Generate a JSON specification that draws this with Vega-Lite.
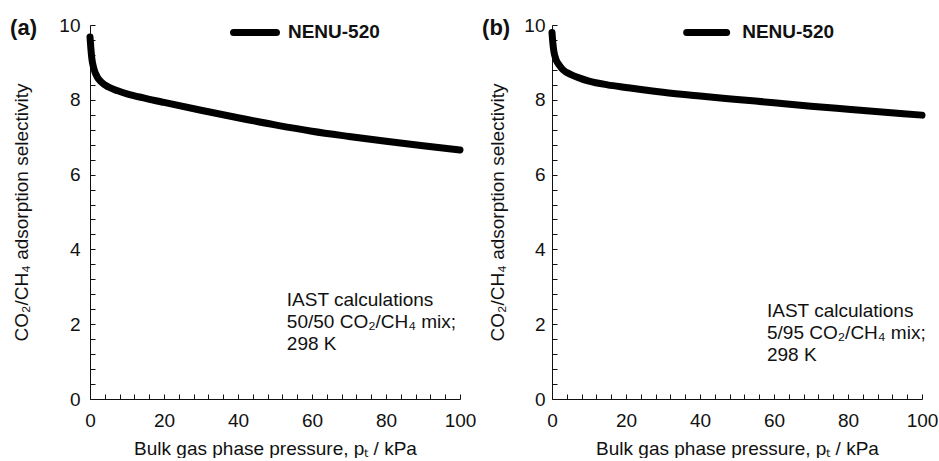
{
  "$schema": "https://vega.github.io/schema/vega-lite/v6.json",
  "padding": {"left": 10, "top": 16, "right": 0, "bottom": 0},
  "bounds": "flush",
  "spacing": 92,
  "config": {
    "view": {"stroke": null},
    "font": "Liberation Sans",
    "axis": {
      "grid": false,
      "domainColor": "#111",
      "tickColor": "#111",
      "labelColor": "#111",
      "titleColor": "#111",
      "labelFont": "Liberation Sans",
      "titleFont": "Liberation Sans",
      "labelFontSize": 19,
      "titleFontSize": 19,
      "titleFontWeight": "normal",
      "tickSize": -5,
      "tickCount": 30,
      "labelFlush": false,
      "labelOverlap": false
    },
    "text": {"font": "Liberation Sans", "color": "#111"}
  },
  "datasets": {
    "a": [
      {"p": 0, "s": 9.68}, {"p": 0.25, "s": 9.35}, {"p": 0.5, "s": 9.1}, {"p": 1, "s": 8.85},
      {"p": 2, "s": 8.6}, {"p": 3, "s": 8.48}, {"p": 5, "s": 8.34}, {"p": 7.5, "s": 8.24},
      {"p": 10, "s": 8.16}, {"p": 15, "s": 8.04}, {"p": 20, "s": 7.93}, {"p": 30, "s": 7.72},
      {"p": 40, "s": 7.52}, {"p": 50, "s": 7.33}, {"p": 60, "s": 7.16}, {"p": 70, "s": 7.02},
      {"p": 80, "s": 6.89}, {"p": 90, "s": 6.77}, {"p": 100, "s": 6.66}
    ],
    "b": [
      {"p": 0, "s": 9.8}, {"p": 0.25, "s": 9.5}, {"p": 0.5, "s": 9.3}, {"p": 1, "s": 9.1},
      {"p": 2, "s": 8.92}, {"p": 3, "s": 8.8}, {"p": 5, "s": 8.68}, {"p": 7.5, "s": 8.58},
      {"p": 10, "s": 8.5}, {"p": 15, "s": 8.4}, {"p": 20, "s": 8.33}, {"p": 30, "s": 8.2},
      {"p": 40, "s": 8.1}, {"p": 50, "s": 8.01}, {"p": 60, "s": 7.92}, {"p": 70, "s": 7.83},
      {"p": 80, "s": 7.75}, {"p": 90, "s": 7.67}, {"p": 100, "s": 7.59}
    ],
    "series": [{"series": "NENU-520"}],
    "tagA": [{"tag": "(a)"}],
    "tagB": [{"tag": "(b)"}],
    "noteA": [{"lines": ["IAST calculations", "50/50 CO₂/CH₄ mix;", "298 K"]}],
    "noteB": [{"lines": ["IAST calculations", "5/95 CO₂/CH₄ mix;", "298 K"]}]
  },
  "hconcat": [
    {
      "width": 370,
      "height": 374,
      "layer": [
        {
          "data": {"name": "a"},
          "mark": {"type": "line", "color": "black", "strokeWidth": 7, "strokeCap": "round", "strokeJoin": "round", "interpolate": "monotone"},
          "encoding": {
            "x": {
              "field": "p", "type": "quantitative",
              "scale": {"domain": [0, 100], "nice": false},
              "axis": {
                "values": [0, 4, 8, 12, 16, 20, 24, 28, 32, 36, 40, 44, 48, 52, 56, 60, 64, 68, 72, 76, 80, 84, 88, 92, 96, 100],
                "labelExpr": "datum.value % 20 === 0 ? format(datum.value, 'd') : ''",
                "title": "Bulk gas phase pressure, pₜ / kPa",
                "labelPadding": 17,
                "titlePadding": 9
              }
            },
            "y": {
              "field": "s", "type": "quantitative",
              "scale": {"domain": [0, 10], "nice": false},
              "axis": {
                "values": [0, 0.4, 0.8, 1.2, 1.6, 2, 2.4, 2.8, 3.2, 3.6, 4, 4.4, 4.8, 5.2, 5.6, 6, 6.4, 6.8, 7.2, 7.6, 8, 8.4, 8.8, 9.2, 9.6, 10],
                "labelExpr": "datum.value % 2 === 0 ? format(datum.value, 'd') : ''",
                "title": "CO₂/CH₄ adsorption selectivity",
                "labelPadding": 15,
                "titlePadding": 27
              }
            }
          }
        },
        {
          "data": {"name": "tagA"},
          "mark": {"type": "text", "align": "left", "baseline": "alphabetic", "fontSize": 22, "fontWeight": "bold"},
          "encoding": {
            "x": {"datum": -21.6, "type": "quantitative"},
            "y": {"datum": 9.73, "type": "quantitative"},
            "text": {"field": "tag", "type": "nominal"}
          }
        },
        {
          "data": {"name": "series"},
          "mark": {"type": "rule", "color": "black", "strokeWidth": 7, "strokeCap": "round"},
          "encoding": {
            "x": {"datum": 38.8, "type": "quantitative"},
            "x2": {"datum": 50.4},
            "y": {"datum": 9.8, "type": "quantitative"}
          }
        },
        {
          "data": {"name": "series"},
          "mark": {"type": "text", "align": "left", "baseline": "middle", "fontSize": 19, "fontWeight": "bold"},
          "encoding": {
            "x": {"datum": 53.5, "type": "quantitative"},
            "y": {"datum": 9.8, "type": "quantitative"},
            "text": {"field": "series", "type": "nominal"}
          }
        },
        {
          "data": {"name": "noteA"},
          "mark": {"type": "text", "align": "left", "baseline": "alphabetic", "fontSize": 19, "lineHeight": 22},
          "encoding": {
            "x": {"datum": 53.2, "type": "quantitative"},
            "y": {"datum": 2.49, "type": "quantitative"},
            "text": {"field": "lines", "type": "nominal"}
          }
        }
      ]
    },
    {
      "width": 370,
      "height": 374,
      "layer": [
        {
          "data": {"name": "b"},
          "mark": {"type": "line", "color": "black", "strokeWidth": 7, "strokeCap": "round", "strokeJoin": "round", "interpolate": "monotone"},
          "encoding": {
            "x": {
              "field": "p", "type": "quantitative",
              "scale": {"domain": [0, 100], "nice": false},
              "axis": {
                "values": [0, 4, 8, 12, 16, 20, 24, 28, 32, 36, 40, 44, 48, 52, 56, 60, 64, 68, 72, 76, 80, 84, 88, 92, 96, 100],
                "labelExpr": "datum.value % 20 === 0 ? format(datum.value, 'd') : ''",
                "title": "Bulk gas phase pressure, pₜ / kPa",
                "labelPadding": 17,
                "titlePadding": 9
              }
            },
            "y": {
              "field": "s", "type": "quantitative",
              "scale": {"domain": [0, 10], "nice": false},
              "axis": {
                "values": [0, 0.4, 0.8, 1.2, 1.6, 2, 2.4, 2.8, 3.2, 3.6, 4, 4.4, 4.8, 5.2, 5.6, 6, 6.4, 6.8, 7.2, 7.6, 8, 8.4, 8.8, 9.2, 9.6, 10],
                "labelExpr": "datum.value % 2 === 0 ? format(datum.value, 'd') : ''",
                "title": "CO₂/CH₄ adsorption selectivity",
                "labelPadding": 12,
                "titlePadding": 16
              }
            }
          }
        },
        {
          "data": {"name": "tagB"},
          "mark": {"type": "text", "align": "left", "baseline": "alphabetic", "fontSize": 22, "fontWeight": "bold"},
          "encoding": {
            "x": {"datum": -18.9, "type": "quantitative"},
            "y": {"datum": 9.73, "type": "quantitative"},
            "text": {"field": "tag", "type": "nominal"}
          }
        },
        {
          "data": {"name": "series"},
          "mark": {"type": "rule", "color": "black", "strokeWidth": 7, "strokeCap": "round"},
          "encoding": {
            "x": {"datum": 36.4, "type": "quantitative"},
            "x2": {"datum": 47.2},
            "y": {"datum": 9.8, "type": "quantitative"}
          }
        },
        {
          "data": {"name": "series"},
          "mark": {"type": "text", "align": "left", "baseline": "middle", "fontSize": 19, "fontWeight": "bold"},
          "encoding": {
            "x": {"datum": 51.4, "type": "quantitative"},
            "y": {"datum": 9.8, "type": "quantitative"},
            "text": {"field": "series", "type": "nominal"}
          }
        },
        {
          "data": {"name": "noteB"},
          "mark": {"type": "text", "align": "left", "baseline": "alphabetic", "fontSize": 19, "lineHeight": 22},
          "encoding": {
            "x": {"datum": 58.1, "type": "quantitative"},
            "y": {"datum": 2.2, "type": "quantitative"},
            "text": {"field": "lines", "type": "nominal"}
          }
        }
      ]
    }
  ]
}
